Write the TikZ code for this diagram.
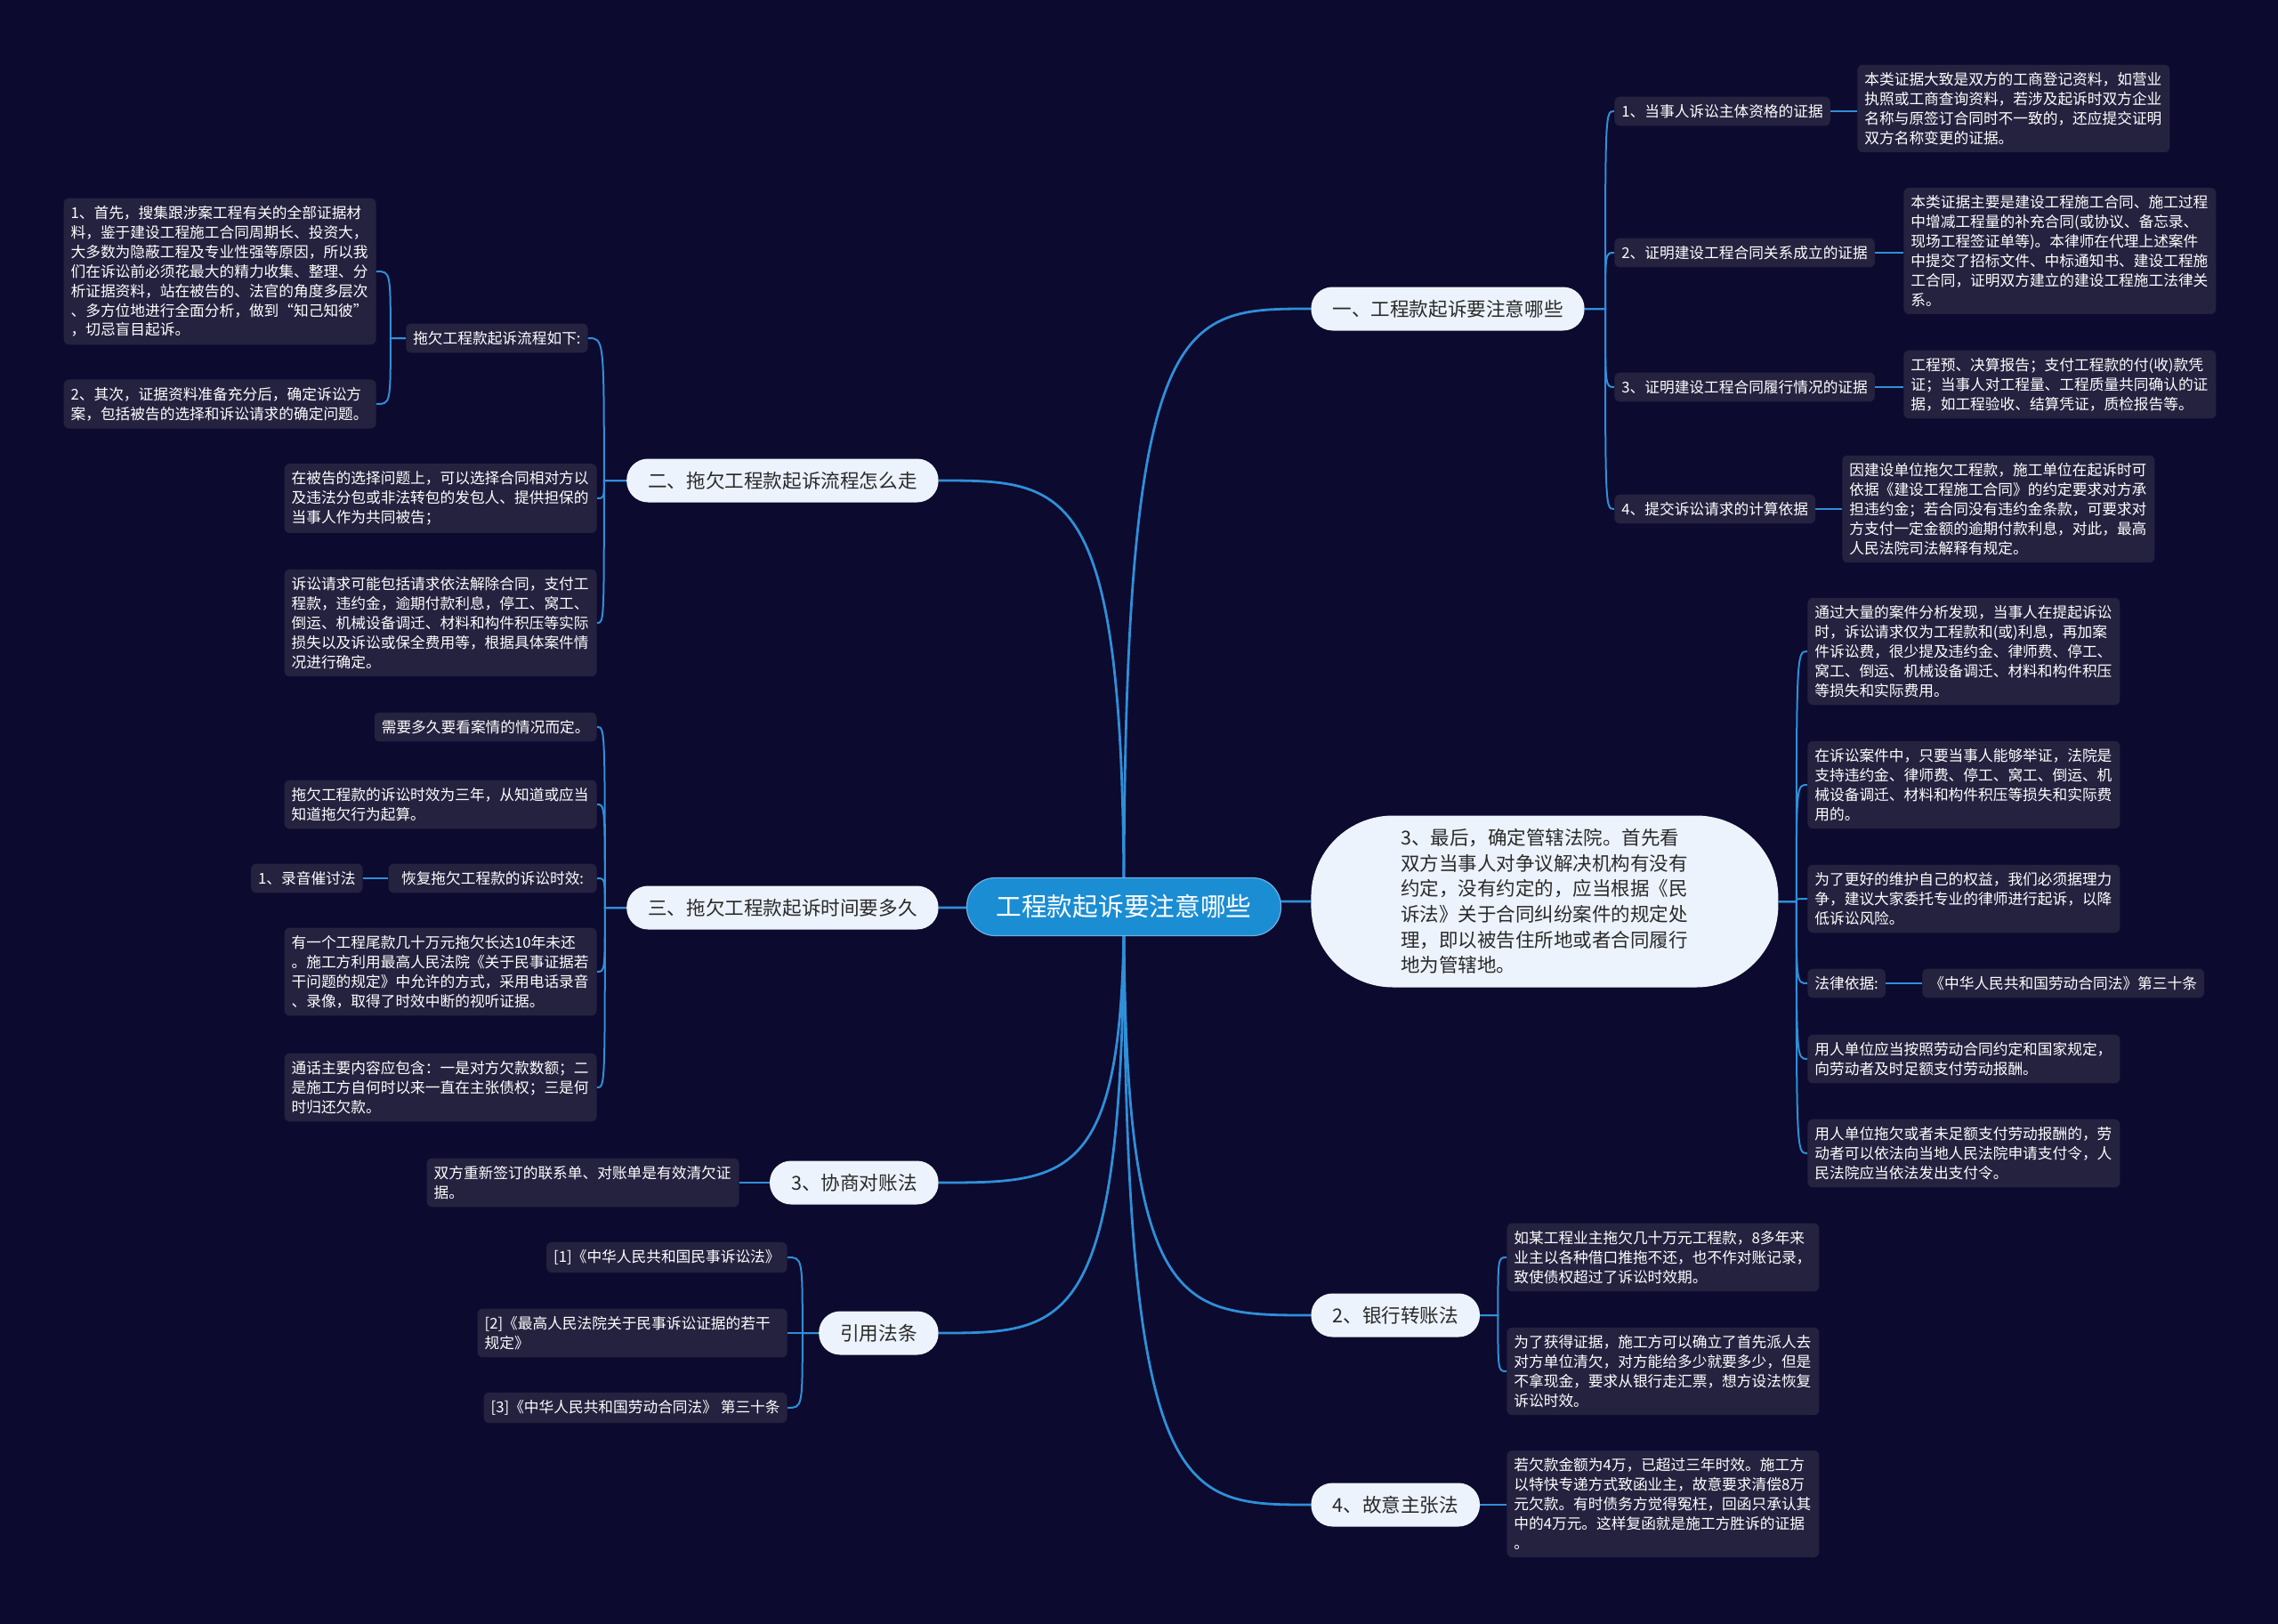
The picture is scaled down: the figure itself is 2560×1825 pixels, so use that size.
\documentclass[tikz,border=0pt]{standalone}
\usepackage{fontspec}
\setmainfont{Noto Sans CJK SC}
\usetikzlibrary{calc}
\definecolor{bgc}{HTML}{0C0A2E}
\definecolor{boxc}{HTML}{25223F}
\definecolor{linec}{HTML}{2F8FD8}
\definecolor{rootc}{HTML}{1B8DD3}
\definecolor{lvc}{HTML}{EDF3FC}
\definecolor{lvt}{HTML}{2A2A2A}
\pgfdeclarelayer{bglayer}
\pgfdeclarelayer{edges}
\pgfsetlayers{bglayer,edges,main}
% main connector from root centre to a level-one node
\newcommand\mlk[2]{\draw[mconn] let \p1=(#1), \p2=(#2) in (\p1) .. controls (\x1,\y2) and ({\x1+0.3*(\x2-\x1)},\y2) .. (\p2);}
% right-side bracket connector
\newcommand\rlk[3]{\draw[conn] let \p1=(#1.east), \p2=(#2.west) in (\p1) -- (\x1+#3,\y1) .. controls (\x1+#3,\y2) and (\x1+#3,\y2) .. (\p2);}
% left-side bracket connector
\newcommand\llk[3]{\draw[conn] let \p1=(#1.west), \p2=(#2.east) in (\p1) -- (\x1-#3,\y1) .. controls (\x1-#3,\y2) and (\x1-#3,\y2) .. (\p2);}
\begin{document}
\begin{tikzpicture}[x=0.5pt,y=-0.5pt,
  leaf/.style={fill=boxc, rounded corners=3pt, text=white, font=\fontsize{8.35pt}{10.95pt}\selectfont, align=left, text width=167.5pt, inner xsep=4pt, inner ysep=4.3pt},
  tag/.style={fill=boxc, rounded corners=3pt, text=white, font=\fontsize{8.35pt}{10.95pt}\selectfont, inner xsep=4pt, inner ysep=4.3pt},
  lone/.style={fill=lvc, text=lvt, font=\fontsize{10.8pt}{13pt}\selectfont, rounded corners=12pt, minimum height=24.5pt, inner xsep=12pt},
  bignode/.style={fill=lvc, text=lvt, font=\fontsize{10.75pt}{14.35pt}\selectfont, rounded corners=46pt, minimum width=262.5pt, minimum height=96.5pt, text width=161.5pt, align=left, inner sep=0pt},
  rootnode/.style={fill=rootc, draw=linec!70!white, line width=0.6pt, text=white, font=\fontsize{14.35pt}{17pt}\selectfont, rounded corners=16pt, minimum width=176.5pt, minimum height=32.5pt},
  conn/.style={draw=linec, line width=1pt},
  mconn/.style={draw=linec, line width=1.4pt}]
\begin{pgfonlayer}{bglayer}
\fill[bgc] (0,0) rectangle (2560,1825);
\end{pgfonlayer}
\useasboundingbox (0,0) rectangle (2560,1825);

% root and level one
\node[rootnode] (c) at (1263,1019) {工程款起诉要注意哪些};
\node[lone, anchor=west] (n1) at (1473,347) {一、工程款起诉要注意哪些};
\node[lone, anchor=east] (n2) at (1055,540) {二、拖欠工程款起诉流程怎么走};
\node[lone, anchor=east] (n3) at (1055,1020) {三、拖欠工程款起诉时间要多久};
\node[bignode, anchor=west] (nb) at (1473,1013) {3、最后，确定管辖法院。首先看\\双方当事人对争议解决机构有没有\\约定，没有约定的，应当根据《民\\诉法》关于合同纠纷案件的规定处\\理，即以被告住所地或者合同履行\\地为管辖地。};
\node[lone, anchor=east] (n4) at (1055,1329) {3、协商对账法};
\node[lone, anchor=east] (n5) at (1055,1498) {引用法条};
\node[lone, anchor=west] (n6) at (1473,1478) {2、银行转账法};
\node[lone, anchor=west] (n7) at (1473,1691) {4、故意主张法};

% branch one
\node[tag, anchor=west] (a1) at (1814,125) {1、当事人诉讼主体资格的证据};
\node[leaf, anchor=west] (a1l) at (2087,122) {本类证据大致是双方的工商登记资料，如营业\\执照或工商查询资料，若涉及起诉时双方企业\\名称与原签订合同时不一致的，还应提交证明\\双方名称变更的证据。};
\node[tag, anchor=west] (a2) at (1814,284) {2、证明建设工程合同关系成立的证据};
\node[leaf, anchor=west] (a2l) at (2139,282) {本类证据主要是建设工程施工合同、施工过程\\中增减工程量的补充合同(或协议、备忘录、\\现场工程签证单等)。本律师在代理上述案件\\中提交了招标文件、中标通知书、建设工程施\\工合同，证明双方建立的建设工程施工法律关\\系。};
\node[tag, anchor=west] (a3) at (1814,435) {3、证明建设工程合同履行情况的证据};
\node[leaf, anchor=west] (a3l) at (2139,432) {工程预、决算报告；支付工程款的付(收)款凭\\证；当事人对工程量、工程质量共同确认的证\\据，如工程验收、结算凭证，质检报告等。};
\node[tag, anchor=west] (a4) at (1814,572) {4、提交诉讼请求的计算依据};
\node[leaf, anchor=west] (a4l) at (2070,572) {因建设单位拖欠工程款，施工单位在起诉时可\\依据《建设工程施工合同》的约定要求对方承\\担违约金；若合同没有违约金条款，可要求对\\方支付一定金额的逾期付款利息，对此，最高\\人民法院司法解释有规定。};

% branch two
\node[tag, anchor=east] (b1) at (661,380) {拖欠工程款起诉流程如下:};
\node[leaf, anchor=east] (b1a) at (423,305) {1、首先，搜集跟涉案工程有关的全部证据材\\料，鉴于建设工程施工合同周期长、投资大，\\大多数为隐蔽工程及专业性强等原因，所以我\\们在诉讼前必须花最大的精力收集、整理、分\\析证据资料，站在被告的、法官的角度多层次\\、多方位地进行全面分析，做到“知己知彼”\\，切忌盲目起诉。};
\node[leaf, anchor=east] (b1b) at (423,454) {2、其次，证据资料准备充分后，确定诉讼方\\案，包括被告的选择和诉讼请求的确定问题。};
\node[leaf, anchor=east] (b2) at (671,560) {在被告的选择问题上，可以选择合同相对方以\\及违法分包或非法转包的发包人、提供担保的\\当事人作为共同被告；};
\node[leaf, anchor=east] (b3) at (671,700) {诉讼请求可能包括请求依法解除合同，支付工\\程款，违约金，逾期付款利息，停工、窝工、\\倒运、机械设备调迁、材料和构件积压等实际\\损失以及诉讼或保全费用等，根据具体案件情\\况进行确定。};

% branch three
\node[tag, anchor=east] (d1) at (671,817) {需要多久要看案情的情况而定。};
\node[leaf, anchor=east] (d2) at (671,904) {拖欠工程款的诉讼时效为三年，从知道或应当\\知道拖欠行为起算。};
\node[tag, anchor=east, minimum width=117pt] (d3) at (671,987) {恢复拖欠工程款的诉讼时效:};
\node[tag, anchor=east] (d3a) at (408,987) {1、录音催讨法};
\node[leaf, anchor=east] (d4) at (671,1092) {有一个工程尾款几十万元拖欠长达10年未还\\。施工方利用最高人民法院《关于民事证据若\\干问题的规定》中允许的方式，采用电话录音\\、录像，取得了时效中断的视听证据。};
\node[leaf, anchor=east] (d5) at (671,1222) {通话主要内容应包含：一是对方欠款数额；二\\是施工方自何时以来一直在主张债权；三是何\\时归还欠款。};

% 3 协商对账法
\node[leaf, anchor=east] (e1) at (831,1329) {双方重新签订的联系单、对账单是有效清欠证\\据。};

% 引用法条
\node[tag, anchor=east] (f1) at (885,1413) {[1]《中华人民共和国民事诉讼法》};
\node[leaf, anchor=east, text width=166pt] (f2) at (885,1498) {[2]《最高人民法院关于民事诉讼证据的若干\\规定》};
\node[tag, anchor=east] (f3) at (885,1582) {[3]《中华人民共和国劳动合同法》 第三十条};

% big node children
\node[leaf, anchor=west] (g1) at (2031,732) {通过大量的案件分析发现，当事人在提起诉讼\\时，诉讼请求仅为工程款和(或)利息，再加案\\件诉讼费，很少提及违约金、律师费、停工、\\窝工、倒运、机械设备调迁、材料和构件积压\\等损失和实际费用。};
\node[leaf, anchor=west] (g2) at (2031,882) {在诉讼案件中，只要当事人能够举证，法院是\\支持违约金、律师费、停工、窝工、倒运、机\\械设备调迁、材料和构件积压等损失和实际费\\用的。};
\node[leaf, anchor=west] (g3) at (2031,1010) {为了更好的维护自己的权益，我们必须据理力\\争，建议大家委托专业的律师进行起诉，以降\\低诉讼风险。};
\node[tag, anchor=west] (g4) at (2031,1105) {法律依据:};
\node[tag, anchor=west] (g4a) at (2160,1105) {《中华人民共和国劳动合同法》第三十条};
\node[leaf, anchor=west] (g5) at (2031,1190) {用人单位应当按照劳动合同约定和国家规定，\\向劳动者及时足额支付劳动报酬。};
\node[leaf, anchor=west] (g6) at (2031,1296) {用人单位拖欠或者未足额支付劳动报酬的，劳\\动者可以依法向当地人民法院申请支付令，人\\民法院应当依法发出支付令。};

% 2 银行转账法
\node[leaf, anchor=west] (h1) at (1693,1413) {如某工程业主拖欠几十万元工程款，8多年来\\业主以各种借口推拖不还，也不作对账记录，\\致使债权超过了诉讼时效期。};
\node[leaf, anchor=west] (h2) at (1693,1541) {为了获得证据，施工方可以确立了首先派人去\\对方单位清欠，对方能给多少就要多少，但是\\不拿现金，要求从银行走汇票，想方设法恢复\\诉讼时效。};

% 4 故意主张法
\node[leaf, anchor=west] (k1) at (1693,1690) {若欠款金额为4万，已超过三年时效。施工方\\以特快专递方式致函业主，故意要求清偿8万\\元欠款。有时债务方觉得冤枉，回函只承认其\\中的4万元。这样复函就是施工方胜诉的证据\\。};

\begin{pgfonlayer}{edges}
\mlk{c.center}{n1.west}
\mlk{c.center}{n2.east}
\mlk{c.center}{n3.east}
\mlk{c.center}{nb.west}
\mlk{c.center}{n4.east}
\mlk{c.center}{n5.east}
\mlk{c.center}{n6.west}
\mlk{c.center}{n7.west}
% branch one
\rlk{n1}{a1}{11.5pt}
\rlk{n1}{a2}{11.5pt}
\rlk{n1}{a3}{11.5pt}
\rlk{n1}{a4}{11.5pt}
\draw[conn] (a1.east) -- (a1.east -| a1l.west);
\draw[conn] (a2.east) -- (a2.east -| a2l.west);
\draw[conn] (a3.east) -- (a3.east -| a3l.west);
\draw[conn] (a4.east) -- (a4.east -| a4l.west);
% branch two
\llk{n2}{b1}{12.5pt}
\llk{n2}{b2}{12.5pt}
\llk{n2}{b3}{12.5pt}
\llk{b1}{b1a}{8.5pt}
\llk{b1}{b1b}{8.5pt}
% branch three
\llk{n3}{d1}{12pt}
\llk{n3}{d2}{12pt}
\llk{n3}{d3}{12pt}
\llk{n3}{d4}{12pt}
\llk{n3}{d5}{12pt}
\draw[conn] (d3.west) -- (d3.west -| d3a.east);
% 协商对账法
\draw[conn] (n4.west) -- (n4.west -| e1.east);
% 引用法条
\llk{n5}{f1}{9pt}
\llk{n5}{f2}{9pt}
\llk{n5}{f3}{9pt}
% big node
\rlk{nb}{g1}{10pt}
\rlk{nb}{g2}{10pt}
\rlk{nb}{g3}{10pt}
\rlk{nb}{g4}{10pt}
\rlk{nb}{g5}{10pt}
\rlk{nb}{g6}{10pt}
\draw[conn] (g4.east) -- (g4.east -| g4a.west);
% 银行转账法
\rlk{n6}{h1}{10pt}
\rlk{n6}{h2}{10pt}
% 故意主张法
\draw[conn] (n7.east) -- (n7.east -| k1.west);
\end{pgfonlayer}
\end{tikzpicture}
\end{document}
